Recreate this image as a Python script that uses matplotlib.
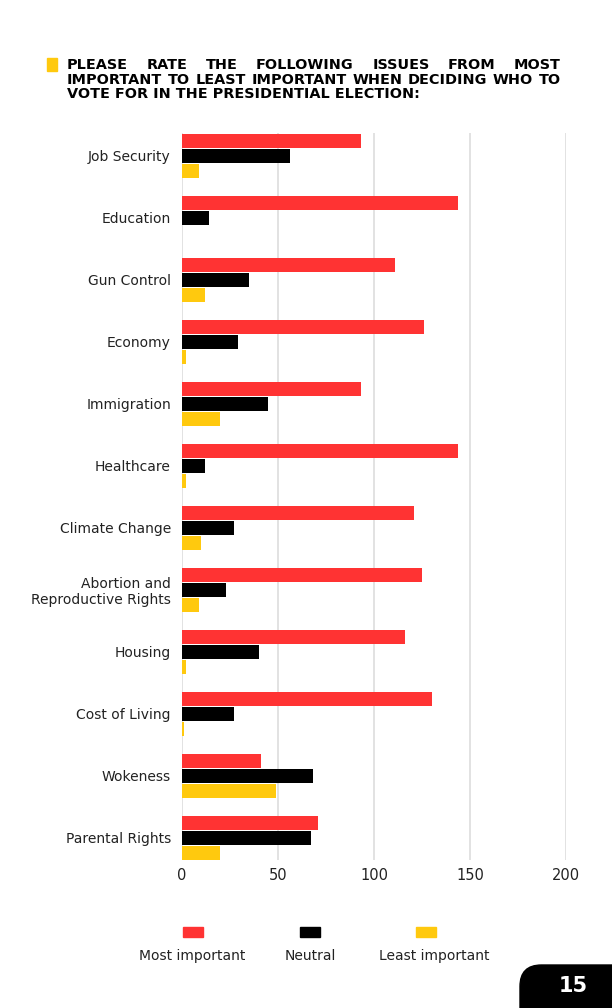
import matplotlib
matplotlib.use("Agg")
import matplotlib.pyplot as plt
from matplotlib.patches import Rectangle, FancyBboxPatch
import numpy as np

plt.rcParams['font.family'] = ['DejaVu Sans']

issues = ['Job Security', 'Education', 'Gun Control', 'Economy', 'Immigration',
          'Healthcare', 'Climate Change', 'Abortion and\nReproductive Rights',
          'Housing', 'Cost of Living', 'Wokeness', 'Parental Rights']
most_important = [93, 144, 111, 126, 93, 144, 121, 125, 116, 130, 41, 71]
neutral = [56, 14, 35, 29, 45, 12, 27, 23, 40, 27, 68, 67]
least_important = [9, 0, 12, 2, 20, 2, 10, 9, 2, 1, 49, 20]
series_names = ['Most important', 'Neutral', 'Least important']
colors = ['#ff3333', '#000000', '#ffc90e']
xticks = [0, 50, 100, 150, 200]

W, H = 612, 1008
fig = plt.figure(figsize=(W / 100, H / 100), dpi=100)
ax = fig.add_axes([182 / W, 1 - 860 / H, (566 - 182) / W, (860 - 133) / H])

y = np.arange(len(issues))
pitch = 0.242
height = 0.22
for k, vals in enumerate([most_important, neutral, least_important]):
    ax.barh(y + (k - 1) * pitch, vals, height=height, color=colors[k], zorder=3)

ax.set_xlim(0, 200)
ax.set_ylim(len(issues) - 1 + 0.36, -0.37)
ax.set_yticks(y)
ax.set_yticklabels(issues, fontsize=10, color='#222222', linespacing=1.15)
ax.set_xticks(xticks)
ax.set_xticklabels([str(t) for t in xticks], fontsize=10.5, color='#222222')
ax.tick_params(length=0)
ax.tick_params(axis='y', pad=8)
ax.tick_params(axis='x', pad=6)
for s in ax.spines.values():
    s.set_visible(False)
ax.grid(axis='x', color='#dddddd', linewidth=1.2, zorder=0)
ax.set_axisbelow(True)

# title, justified lines
fig.add_artist(Rectangle((47 / W, 1 - 71 / H), 10 / W, 13 / H,
                         transform=fig.transFigure, color='#ffc90e'))
renderer = fig.canvas.get_renderer()
lines = ['PLEASE RATE THE FOLLOWING ISSUES FROM MOST',
         'IMPORTANT TO LEAST IMPORTANT WHEN DECIDING WHO TO',
         'VOTE FOR IN THE PRESIDENTIAL ELECTION:']
x0, x1 = 67, 561

# pick the title size so the second line fills the column with plain spaces
probe = fig.text(0, 0, lines[1], fontsize=10, fontweight='bold')
tsize = 10 * (x1 - x0) / probe.get_window_extent(renderer).width * 0.99
probe.remove()

for i, line in enumerate(lines):
    ypix = 65 + i * 14.5
    words = line.split()
    if i < 2:
        txts = [fig.text(0, 1 - ypix / H, w, fontsize=tsize, fontweight='bold',
                         va='center', ha='left') for w in words]
        widths = [t.get_window_extent(renderer).width for t in txts]
        gap = (x1 - x0 - sum(widths)) / (len(words) - 1)
        xp = x0
        for t, wd in zip(txts, widths):
            t.set_x(xp / W)
            xp += wd + gap
    else:
        fig.text(x0 / W, 1 - ypix / H, line, fontsize=tsize, fontweight='bold',
                 va='center', ha='left')

# legend
leg_x = [193, 310, 426]
lab_x = [192, 310, 434]
for name, c, lx, tx in zip(series_names, colors, leg_x, lab_x):
    fig.add_artist(Rectangle(((lx - 10) / W, 1 - 937 / H), 20 / W, 10 / H,
                             transform=fig.transFigure, color=c))
    fig.text(tx / W, 1 - 956 / H, name, fontsize=10, color='#222222',
             ha='center', va='center')

# page number badge
fig.add_artist(FancyBboxPatch((520 / W, 1 - 1030 / H), 120 / W, 65 / H,
                              boxstyle='round,pad=0,rounding_size=0.035',
                              transform=fig.transFigure, color='black',
                              mutation_aspect=W / H))
fig.text(573 / W, 1 - 986 / H, '15', fontsize=15, fontweight='bold',
         color='white', ha='center', va='center')

fig.savefig('out.png', dpi=100, facecolor='white')
